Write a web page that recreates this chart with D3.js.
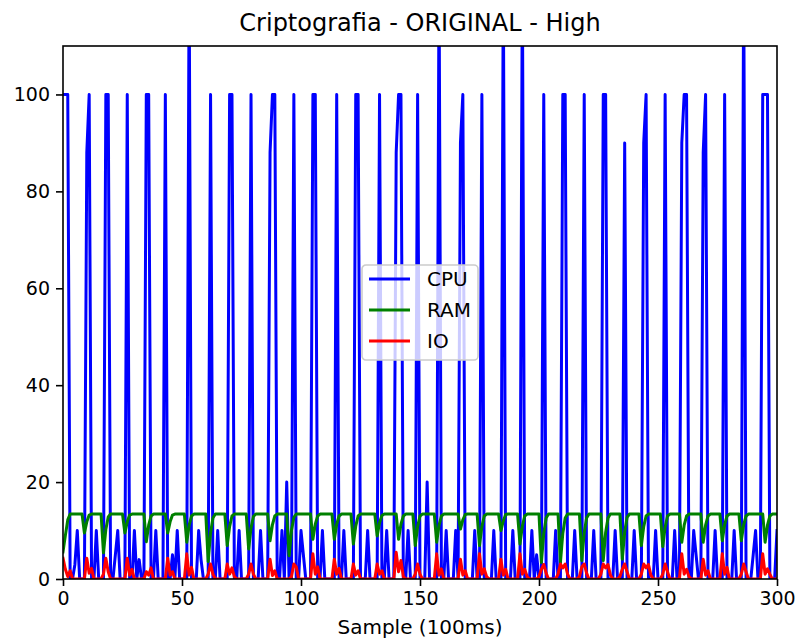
<!DOCTYPE html>
<html>
<head>
<meta charset="utf-8">
<script src="https://cdn.jsdelivr.net/npm/d3@7"></script>
<style>
  body { margin: 0; background: #fff; }
  svg { display: block; }
  text { font-family: "DejaVu Sans", sans-serif; fill: #000; }
</style>
</head>
<body>
<svg id="chart" width="795" height="639"></svg>
<script>
// Resource usage per sample (one sample every 100 ms), percent
const cpu = [
  100,100,100,0,0,3,10,0,0,0,
  88,100,0,0,10,0,0,0,100,100,
  0,0,5,10,0,0,0,100,0,0,
  10,0,4,0,0,100,100,0,0,10,
  0,0,0,100,0,0,5,0,10,0,
  0,0,0,125,0,0,0,10,4,0,
  0,0,100,0,0,10,0,0,0,0,
  100,100,0,0,10,0,0,0,0,100,
  0,0,0,10,0,0,0,88,100,100,
  0,0,10,0,20,0,0,100,0,0,
  10,5,0,0,0,100,100,0,0,10,
  0,0,0,0,0,100,0,0,10,0,
  0,0,0,100,100,0,0,0,10,0,
  0,0,0,100,0,0,10,0,0,0,
  88,100,100,0,0,10,0,0,0,100,
  0,0,0,20,0,0,0,0,125,0,
  0,10,0,0,0,10,0,90,100,0,
  0,0,0,10,0,0,100,0,0,0,
  0,10,0,0,0,125,0,0,0,10,
  0,0,0,125,0,0,0,10,0,5,
  0,0,100,0,0,0,0,10,0,0,
  100,100,0,0,0,10,0,0,0,100,
  0,0,0,10,0,0,0,100,100,0,
  0,0,10,0,0,0,90,0,0,0,
  10,0,0,0,90,100,0,0,0,10,
  0,0,0,100,0,0,0,10,0,0,
  90,100,100,0,0,10,5,0,0,88,
  100,0,0,0,10,0,0,0,100,0,
  0,0,10,0,0,0,125,0,0,0,
  5,10,0,0,100,100,100,0,0,0,
  10
];

const ram = [
  5.6,9.0,12.2,13.4,13.4,13.4,13.4,13.4,13.4,9.5,
  11.8,13.2,13.4,13.4,13.4,13.4,13.4,5.4,10.2,12.8,
  13.4,13.4,13.4,13.4,13.4,13.4,9.5,11.8,13.2,13.4,
  13.4,13.4,13.4,13.4,13.4,7.7,11.1,13.0,13.4,13.4,
  13.4,13.4,13.4,13.4,9.5,11.8,13.2,13.4,13.4,13.4,
  13.4,13.4,7.6,11.1,13.0,13.4,13.4,13.4,13.4,13.4,
  13.4,3.6,9.5,12.6,13.4,13.4,13.4,13.4,13.4,6.9,
  10.8,13.0,13.4,13.4,13.4,13.4,13.4,13.4,6.2,10.5,
  12.9,13.4,13.4,13.4,13.4,13.4,13.4,7.9,11.2,13.0,
  13.4,13.4,13.4,13.4,13.4,4.8,10.0,12.7,13.4,13.4,
  13.4,13.4,13.4,13.4,13.4,8.2,11.3,13.0,13.4,13.4,
  13.4,13.4,13.4,13.4,8.2,11.3,13.0,13.4,13.4,13.4,
  13.4,13.4,7.2,10.9,13.0,13.4,13.4,13.4,13.4,13.4,
  13.4,13.4,8.9,11.6,13.1,13.4,13.4,13.4,13.4,13.4,
  13.4,8.2,11.3,13.0,13.4,13.4,13.4,13.4,6.9,10.8,
  13.0,13.4,13.4,13.4,13.4,13.4,13.4,7.6,11.1,13.0,
  13.4,13.4,13.4,13.4,13.4,13.4,13.4,10.3,12.2,13.3,
  13.4,13.4,13.4,13.4,13.4,6.9,10.8,13.0,13.4,13.4,
  13.4,13.4,13.4,13.4,10.0,12.0,13.3,13.4,13.4,13.4,
  13.4,13.4,7.2,10.9,13.0,13.4,13.4,13.4,13.4,13.4,
  13.4,3.4,9.4,12.6,13.4,13.4,13.4,13.4,13.4,3.4,
  9.4,12.6,13.4,13.4,13.4,13.4,13.4,13.4,3.8,9.6,
  12.6,13.4,13.4,13.4,13.4,13.4,13.4,3.8,9.6,12.6,
  13.4,13.4,13.4,13.4,13.4,4.1,9.7,12.7,13.4,13.4,
  13.4,13.4,13.4,6.9,10.8,13.0,13.4,13.4,13.4,13.4,
  13.4,13.4,6.7,10.7,13.0,13.4,13.4,13.4,13.4,13.4,
  7.6,11.1,13.0,13.4,13.4,13.4,13.4,13.4,13.4,7.6,
  11.1,13.0,13.4,13.4,13.4,13.4,13.4,7.9,11.2,13.0,
  13.4,13.4,13.4,13.4,13.4,7.9,11.2,13.0,13.4,13.4,
  13.4,13.4,13.4,13.4,13.4,7.6,11.1,13.0,13.4,13.4,
  13.4
];

const io = [
  4.3,2.0,0.5,1.7,0,0,0,0,0,0,
  4.3,1.2,2.2,0,0,0,0,1.0,4.3,1.5,
  0,0,0,0,0,0,0,4.3,0.8,2.0,
  0,0,0,0,0,1.5,0.8,2.3,0,0,
  0,0,0,0,4.3,0.8,1.5,0,0,0,
  0,0,5.2,0.8,2.4,0,0,0,0,0,
  0,1.0,3.1,1.0,0,0,0,0,0,3.1,
  1.0,2.3,0.5,0,0,0,0,0,1.0,3.1,
  1.0,0,0,0,0,0,0,4.1,0.7,1.7,
  0,0,0,0,0,0,0.5,3.1,2.5,0,
  0,0,0,0,0,5.2,1.0,2.5,0,0,
  0,0,0,0,4.1,1.0,2.2,0,0,0,
  0,0,3.1,0.8,1.7,0,0,0,0,0,
  0,0,3.1,1.0,1.7,0,0,0,0,0,
  5.5,1.5,3.8,0.5,0,0,0,0,1.0,3.1,
  1.0,0,0,0,0,0,0,5.2,0.8,2.1,
  0,0,0,0,0,0,0,4.1,0.8,1.7,
  0,0,0,0,0,5.2,1.0,2.1,0.5,0,
  0,0,0,0,4.1,0.8,2.0,0,0,0,
  0,0,5.2,1.0,2.0,0.5,0,0,0,0,
  0.5,2.0,3.0,1.2,0,0,0,0,1.0,3.1,
  2.3,3.1,1.0,0,0,0,0,0.5,2.5,3.1,
  1.2,0,0,0,0,0,1.0,3.1,2.3,3.0,
  0.8,0,0,0,0.5,2.0,3.1,1.5,0,0,
  0,0,0,1.0,3.1,2.3,3.0,0.8,0,0,
  0,0,1.0,3.1,1.5,0,0,0,0,0,
  5.2,1.0,2.0,0.5,0,0,0,0,0,4.1,
  0.8,1.7,0,0,0,0,0,5.2,1.0,2.4,
  0,0,0,0,0,1.0,3.1,1.5,0,0,
  0,0,0,0,5.2,1.0,2.1,1.0,0,0,
  0
];

const seriesNames = ["CPU", "RAM", "IO"];
const xTickValues = [0, 50, 100, 150, 200, 250, 300];
const yTickValues = [0, 20, 40, 60, 80, 100];

const titleText = "Criptografia - ORIGINAL - High";
const xLabelText = "Sample (100ms)";

// ---- layout ----
const svg = d3.select("#chart");
const plot = { left: 63, top: 46, right: 777, bottom: 579 };
const colors = { CPU: "#0000ff", RAM: "#008000", IO: "#ff0000" };
const tickFont = 19;
const labelFont = 20;

const x = d3.scaleLinear().domain([0, 300]).range([plot.left, plot.right]);
const y = d3.scaleLinear().domain([0, 110]).range([plot.bottom, plot.top]);

svg.append("defs").append("clipPath").attr("id", "plot-clip")
  .append("rect")
  .attr("x", plot.left).attr("y", plot.top)
  .attr("width", plot.right - plot.left).attr("height", plot.bottom - plot.top);

// ---- series lines ----
const line = d3.line().x((d, i) => x(i)).y(d => y(d));
const dataBySeries = { CPU: cpu, RAM: ram, IO: io };

const lines = svg.append("g").attr("clip-path", "url(#plot-clip)");
seriesNames.forEach(name => {
  lines.append("path")
    .datum(dataBySeries[name])
    .attr("d", line)
    .attr("fill", "none")
    .attr("stroke", colors[name])
    .attr("stroke-width", 3)
    .attr("stroke-linejoin", "round")
    .attr("stroke-linecap", "square");
});

// ---- axes ----
const xAxis = d3.axisBottom(x).tickValues(xTickValues).tickSize(7).tickPadding(6).tickFormat(d3.format("d"));
const yAxis = d3.axisLeft(y).tickValues(yTickValues).tickSize(7).tickPadding(6).tickFormat(d3.format("d"));

const gx = svg.append("g").attr("transform", `translate(0,${plot.bottom})`).call(xAxis);
const gy = svg.append("g").attr("transform", `translate(${plot.left},0)`).call(yAxis);
[gx, gy].forEach(g => {
  g.select(".domain").remove();
  g.selectAll(".tick line").attr("stroke", "#000").attr("stroke-width", 1.6);
  g.selectAll(".tick text").attr("font-size", tickFont).attr("font-family", "DejaVu Sans").attr("fill", "#000");
});

// frame around the plot area
svg.append("rect")
  .attr("x", plot.left).attr("y", plot.top)
  .attr("width", plot.right - plot.left).attr("height", plot.bottom - plot.top)
  .attr("fill", "none").attr("stroke", "#000").attr("stroke-width", 1.6);

// ---- title and axis label ----
svg.append("text")
  .attr("x", (plot.left + plot.right) / 2).attr("y", 31)
  .attr("text-anchor", "middle").attr("font-size", 24)
  .text(titleText);

svg.append("text")
  .attr("x", (plot.left + plot.right) / 2).attr("y", 634)
  .attr("text-anchor", "middle").attr("font-size", labelFont)
  .text(xLabelText);

// ---- legend ----
const legend = svg.append("g").attr("transform", "translate(362,265)");
legend.append("rect")
  .attr("width", 116).attr("height", 95).attr("rx", 4)
  .attr("fill", "#fff").attr("fill-opacity", 0.8)
  .attr("stroke", "#cccccc").attr("stroke-width", 1.6);
seriesNames.forEach((name, i) => {
  const cy = 14 + i * 31;
  legend.append("line")
    .attr("x1", 7).attr("x2", 48).attr("y1", cy).attr("y2", cy)
    .attr("stroke", colors[name]).attr("stroke-width", 3);
  legend.append("text")
    .attr("x", 65).attr("y", cy).attr("dy", "0.36em")
    .attr("font-size", labelFont)
    .text(name);
});
</script>
</body>
</html>
